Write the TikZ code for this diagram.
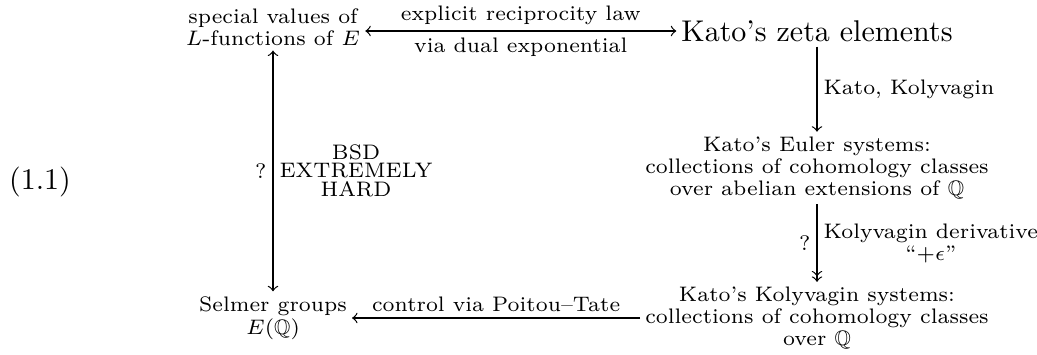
\documentclass[tikz,border=0pt]{standalone}
\usepackage{amsmath}
\usepackage{amssymb}
\usepackage{tikz}
\usetikzlibrary{arrows}

\begin{document}
\begin{tikzpicture}[x=0.3333pt,y=0.3333pt,
    cell/.style={align=center,inner sep=1.5pt},
    lbl/.style={font=\scriptsize,inner sep=2pt}]
\begin{scope}[>=to]
\useasboundingbox (0,0) rectangle (1037,354);

    \node (tag) at (40,172) {(1.1)};

    \node[cell] (lval) at (273,327)
        {$\substack{\text{special values of}\\ L\text{-functions of }E}$};
    \node[cell] (zeta) at (817,323) {Kato's zeta elements};
    \node[cell] (euler) at (817,186)
        {$\substack{\text{Kato's Euler systems:}\\
          \text{collections of cohomology classes}\\
          \text{over abelian extensions of }\mathbb{Q}}$};
    \node[cell] (kolsys) at (817,36)
        {$\substack{\text{Kato's Kolyvagin systems:}\\
          \text{collections of cohomology classes}\\
          \text{over }\mathbb{Q}}$};
    \node[cell] (selmer) at (273,36)
        {$\substack{\text{Selmer groups}\\ E(\mathbb{Q})}$};

    \draw[<->] (lval.east |- zeta) -- (zeta)
        node[lbl,midway,above]{explicit reciprocity law}
        node[lbl,midway,below]{via dual exponential};
    \draw[->] (zeta) -- (euler)
        node[lbl,midway,right]{Kato, Kolyvagin};
    \draw[->>] (euler) -- (kolsys)
        node[lbl,midway,left]{?}
        node[midway,right,inner sep=2pt]
          {$\substack{\text{Kolyvagin derivative}\\ \text{``$+\epsilon$''}}$};
    \draw[->] (kolsys) -- (selmer)
        node[lbl,midway,above]{control via Poitou--Tate};
    \draw[<->] (lval) -- (selmer)
        node[lbl,midway,left]{?}
        node[midway,right,inner sep=2pt]
          {$\substack{\text{BSD}\\ \text{EXTREMELY}\\ \text{HARD}}$};
\end{scope}
\end{tikzpicture}
\end{document}
